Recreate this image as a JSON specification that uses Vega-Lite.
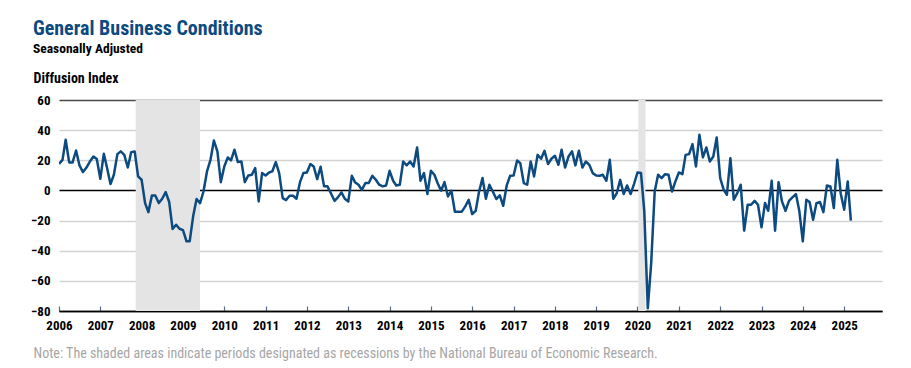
{
  "$schema": "https://vega.github.io/schema/vega-lite/v6.json",
  "width": 823,
  "height": 211,
  "autosize": {"type": "none"},
  "padding": {"left": 59, "top": 100, "right": 29, "bottom": 57},
  "background": "white",
  "config": {
    "font": "'Roboto Condensed', 'Noto Sans Condensed', 'Open Sans Condensed', 'Liberation Sans Narrow', 'DejaVu Sans Condensed', sans-serif",
    "view": {"stroke": null}
  },
  "title": {
    "text": "General Business Conditions",
    "subtitle": "Seasonally Adjusted",
    "anchor": "start",
    "frame": "group",
    "dx": -26,
    "offset": 16,
    "font": "'Roboto Condensed', 'Noto Sans Condensed', 'Open Sans Condensed', 'Liberation Sans Narrow', 'DejaVu Sans Condensed', sans-serif",
    "subtitleFont": "'Roboto Condensed', 'Noto Sans Condensed', 'Open Sans Condensed', 'Liberation Sans Narrow', 'DejaVu Sans Condensed', sans-serif",
    "fontSize": 20,
    "fontWeight": "bold",
    "color": "#0c4a80",
    "subtitleFontSize": 13.5,
    "subtitleFontWeight": "bold",
    "subtitleColor": "#000000",
    "subtitlePadding": 3
  },
  "datasets": {
    "recessions": [
      {"start": "2007-11-10", "end": "2009-05-31"},
      {"start": "2020-01-08", "end": "2020-03-12"}
    ],
    "series": [
      {"date": "2006-01-01", "value": 17.5}, {"date": "2006-02-01", "value": 20.3}, {"date": "2006-03-01", "value": 33.6}, {"date": "2006-04-01", "value": 18.6}, {"date": "2006-05-01", "value": 18.6}, {"date": "2006-06-01", "value": 26.5}, {"date": "2006-07-01", "value": 16.6}, {"date": "2006-08-01", "value": 12.2}, {"date": "2006-09-01", "value": 15.2}, {"date": "2006-10-01", "value": 19.2}, {"date": "2006-11-01", "value": 22.5}, {"date": "2006-12-01", "value": 20.8},
      {"date": "2007-01-01", "value": 7.7}, {"date": "2007-02-01", "value": 24.3}, {"date": "2007-03-01", "value": 15.2}, {"date": "2007-04-01", "value": 4.2}, {"date": "2007-05-01", "value": 10.4}, {"date": "2007-06-01", "value": 24.1}, {"date": "2007-07-01", "value": 25.9}, {"date": "2007-08-01", "value": 23.6}, {"date": "2007-09-01", "value": 15.2}, {"date": "2007-10-01", "value": 25.4}, {"date": "2007-11-01", "value": 25.9}, {"date": "2007-12-01", "value": 9.3},
      {"date": "2008-01-01", "value": 7.1}, {"date": "2008-02-01", "value": -8.4}, {"date": "2008-03-01", "value": -14.4}, {"date": "2008-04-01", "value": -3.3}, {"date": "2008-05-01", "value": -3.3}, {"date": "2008-06-01", "value": -8.4}, {"date": "2008-07-01", "value": -5.5}, {"date": "2008-08-01", "value": -1.1}, {"date": "2008-09-01", "value": -7.7}, {"date": "2008-10-01", "value": -25.6}, {"date": "2008-11-01", "value": -22.8}, {"date": "2008-12-01", "value": -25.4},
      {"date": "2009-01-01", "value": -26.3}, {"date": "2009-02-01", "value": -33.8}, {"date": "2009-03-01", "value": -33.8}, {"date": "2009-04-01", "value": -17.0}, {"date": "2009-05-01", "value": -5.7}, {"date": "2009-06-01", "value": -8.4}, {"date": "2009-07-01", "value": -0.7}, {"date": "2009-08-01", "value": 12.6}, {"date": "2009-09-01", "value": 20.3}, {"date": "2009-10-01", "value": 33.1}, {"date": "2009-11-01", "value": 25.9}, {"date": "2009-12-01", "value": 5.5},
      {"date": "2010-01-01", "value": 15.9}, {"date": "2010-02-01", "value": 21.9}, {"date": "2010-03-01", "value": 19.9}, {"date": "2010-04-01", "value": 27.0}, {"date": "2010-05-01", "value": 18.8}, {"date": "2010-06-01", "value": 19.2}, {"date": "2010-07-01", "value": 5.5}, {"date": "2010-08-01", "value": 9.9}, {"date": "2010-09-01", "value": 10.4}, {"date": "2010-10-01", "value": 14.8}, {"date": "2010-11-01", "value": -7.3}, {"date": "2010-12-01", "value": 11.5},
      {"date": "2011-01-01", "value": 9.9}, {"date": "2011-02-01", "value": 11.9}, {"date": "2011-03-01", "value": 12.6}, {"date": "2011-04-01", "value": 18.8}, {"date": "2011-05-01", "value": 11.5}, {"date": "2011-06-01", "value": -5.1}, {"date": "2011-07-01", "value": -6.4}, {"date": "2011-08-01", "value": -3.5}, {"date": "2011-09-01", "value": -3.5}, {"date": "2011-10-01", "value": -5.5}, {"date": "2011-11-01", "value": 5.5}, {"date": "2011-12-01", "value": 11.5},
      {"date": "2012-01-01", "value": 11.9}, {"date": "2012-02-01", "value": 17.5}, {"date": "2012-03-01", "value": 15.9}, {"date": "2012-04-01", "value": 7.5}, {"date": "2012-05-01", "value": 15.7}, {"date": "2012-06-01", "value": 2.7}, {"date": "2012-07-01", "value": 2.7}, {"date": "2012-08-01", "value": -2.0}, {"date": "2012-09-01", "value": -6.9}, {"date": "2012-10-01", "value": -4.6}, {"date": "2012-11-01", "value": -1.3}, {"date": "2012-12-01", "value": -5.5},
      {"date": "2013-01-01", "value": -7.3}, {"date": "2013-02-01", "value": 9.7}, {"date": "2013-03-01", "value": 5.5}, {"date": "2013-04-01", "value": 3.8}, {"date": "2013-05-01", "value": 0.4}, {"date": "2013-06-01", "value": 4.9}, {"date": "2013-07-01", "value": 4.9}, {"date": "2013-08-01", "value": 9.7}, {"date": "2013-09-01", "value": 7.1}, {"date": "2013-10-01", "value": 3.8}, {"date": "2013-11-01", "value": 2.7}, {"date": "2013-12-01", "value": 3.3},
      {"date": "2014-01-01", "value": 13.0}, {"date": "2014-02-01", "value": 6.4}, {"date": "2014-03-01", "value": 3.3}, {"date": "2014-04-01", "value": 3.8}, {"date": "2014-05-01", "value": 19.2}, {"date": "2014-06-01", "value": 16.6}, {"date": "2014-07-01", "value": 19.2}, {"date": "2014-08-01", "value": 15.9}, {"date": "2014-09-01", "value": 28.5}, {"date": "2014-10-01", "value": 6.4}, {"date": "2014-11-01", "value": 11.5}, {"date": "2014-12-01", "value": -2.4},
      {"date": "2015-01-01", "value": 13.0}, {"date": "2015-02-01", "value": 10.4}, {"date": "2015-03-01", "value": 4.9}, {"date": "2015-04-01", "value": -0.2}, {"date": "2015-05-01", "value": 5.5}, {"date": "2015-06-01", "value": -4.0}, {"date": "2015-07-01", "value": -0.2}, {"date": "2015-08-01", "value": -14.1}, {"date": "2015-09-01", "value": -14.1}, {"date": "2015-10-01", "value": -14.1}, {"date": "2015-11-01", "value": -10.6}, {"date": "2015-12-01", "value": -6.2},
      {"date": "2016-01-01", "value": -15.7}, {"date": "2016-02-01", "value": -13.5}, {"date": "2016-03-01", "value": -1.0}, {"date": "2016-04-01", "value": 8.2}, {"date": "2016-05-01", "value": -5.5}, {"date": "2016-06-01", "value": 3.8}, {"date": "2016-07-01", "value": -0.7}, {"date": "2016-08-01", "value": -5.7}, {"date": "2016-09-01", "value": -3.3}, {"date": "2016-10-01", "value": -10.2}, {"date": "2016-11-01", "value": 3.3}, {"date": "2016-12-01", "value": 9.7},
      {"date": "2017-01-01", "value": 9.9}, {"date": "2017-02-01", "value": 19.9}, {"date": "2017-03-01", "value": 18.1}, {"date": "2017-04-01", "value": 4.9}, {"date": "2017-05-01", "value": 3.8}, {"date": "2017-06-01", "value": 19.2}, {"date": "2017-07-01", "value": 9.3}, {"date": "2017-08-01", "value": 23.6}, {"date": "2017-09-01", "value": 21.0}, {"date": "2017-10-01", "value": 26.3}, {"date": "2017-11-01", "value": 17.5}, {"date": "2017-12-01", "value": 21.0},
      {"date": "2018-01-01", "value": 23.0}, {"date": "2018-02-01", "value": 17.0}, {"date": "2018-03-01", "value": 27.0}, {"date": "2018-04-01", "value": 15.2}, {"date": "2018-05-01", "value": 22.5}, {"date": "2018-06-01", "value": 25.9}, {"date": "2018-07-01", "value": 16.6}, {"date": "2018-08-01", "value": 26.3}, {"date": "2018-09-01", "value": 15.2}, {"date": "2018-10-01", "value": 19.2}, {"date": "2018-11-01", "value": 17.0}, {"date": "2018-12-01", "value": 11.5},
      {"date": "2019-01-01", "value": 9.9}, {"date": "2019-02-01", "value": 9.7}, {"date": "2019-03-01", "value": 10.4}, {"date": "2019-04-01", "value": 6.4}, {"date": "2019-05-01", "value": 20.3}, {"date": "2019-06-01", "value": -5.5}, {"date": "2019-07-01", "value": -2.0}, {"date": "2019-08-01", "value": 7.0}, {"date": "2019-09-01", "value": -2.4}, {"date": "2019-10-01", "value": 3.3}, {"date": "2019-11-01", "value": -2.4}, {"date": "2019-12-01", "value": 4.2},
      {"date": "2020-01-01", "value": 11.9}, {"date": "2020-02-01", "value": 11.5}, {"date": "2020-03-01", "value": -13.9}, {"date": "2020-04-01", "value": -78.2}, {"date": "2020-05-01", "value": -48.2}, {"date": "2020-06-01", "value": -0.7}, {"date": "2020-07-01", "value": 10.4}, {"date": "2020-08-01", "value": 8.2}, {"date": "2020-09-01", "value": 10.8}, {"date": "2020-10-01", "value": 10.4}, {"date": "2020-11-01", "value": -0.7}, {"date": "2020-12-01", "value": 6.0},
      {"date": "2021-01-01", "value": 11.9}, {"date": "2021-02-01", "value": 10.8}, {"date": "2021-03-01", "value": 23.6}, {"date": "2021-04-01", "value": 24.1}, {"date": "2021-05-01", "value": 30.7}, {"date": "2021-06-01", "value": 15.9}, {"date": "2021-07-01", "value": 36.9}, {"date": "2021-08-01", "value": 21.9}, {"date": "2021-09-01", "value": 28.5}, {"date": "2021-10-01", "value": 19.2}, {"date": "2021-11-01", "value": 22.5}, {"date": "2021-12-01", "value": 35.1},
      {"date": "2022-01-01", "value": 8.2}, {"date": "2022-02-01", "value": 0.4}, {"date": "2022-03-01", "value": -2.9}, {"date": "2022-04-01", "value": 21.4}, {"date": "2022-05-01", "value": -6.2}, {"date": "2022-06-01", "value": -1.8}, {"date": "2022-07-01", "value": 3.8}, {"date": "2022-08-01", "value": -26.7}, {"date": "2022-09-01", "value": -9.5}, {"date": "2022-10-01", "value": -9.5}, {"date": "2022-11-01", "value": -6.9}, {"date": "2022-12-01", "value": -9.5},
      {"date": "2023-01-01", "value": -24.5}, {"date": "2023-02-01", "value": -8.4}, {"date": "2023-03-01", "value": -13.5}, {"date": "2023-04-01", "value": 6.4}, {"date": "2023-05-01", "value": -26.7}, {"date": "2023-06-01", "value": 5.5}, {"date": "2023-07-01", "value": -7.3}, {"date": "2023-08-01", "value": -13.5}, {"date": "2023-09-01", "value": -6.9}, {"date": "2023-10-01", "value": -4.6}, {"date": "2023-11-01", "value": -2.4}, {"date": "2023-12-01", "value": -13.5},
      {"date": "2024-01-01", "value": -33.8}, {"date": "2024-02-01", "value": -6.2}, {"date": "2024-03-01", "value": -7.7}, {"date": "2024-04-01", "value": -19.4}, {"date": "2024-05-01", "value": -8.4}, {"date": "2024-06-01", "value": -7.7}, {"date": "2024-07-01", "value": -14.4}, {"date": "2024-08-01", "value": 3.3}, {"date": "2024-09-01", "value": 2.7}, {"date": "2024-10-01", "value": -11.7}, {"date": "2024-11-01", "value": 20.3}, {"date": "2024-12-01", "value": -2.0},
      {"date": "2025-01-01", "value": -12.8}, {"date": "2025-02-01", "value": 6.0}, {"date": "2025-03-01", "value": -20.1}
    ]
  },
  "layer": [
    {
      "data": {"name": "recessions"},
      "mark": {"type": "rect", "color": "#e4e4e4"},
      "encoding": {
        "x": {"field": "start", "type": "temporal"},
        "x2": {"field": "end"}
      }
    },
    {
      "data": {"name": "series"},
      "mark": {"type": "line", "color": "#0c4a80", "strokeWidth": 2.5, "strokeJoin": "round", "clip": true},
      "encoding": {
        "x": {
          "field": "date",
          "type": "temporal",
          "scale": {"type": "utc", "domain": ["2006-01-01", "2025-12-01"]},
          "axis": {
            "title": "Note: The shaded areas indicate periods designated as recessions by the National Bureau of Economic Research.",
            "titleFontSize": 14,
            "titleFontWeight": "normal",
            "titleColor": "#a6a6a6",
            "titleAnchor": "start",
            "titleAlign": "left",
            "titleBaseline": "alphabetic",
            "titleX": -26,
            "titleY": 46,
            "format": "%Y",
            "tickCount": {"interval": "year", "step": 1},
            "grid": false,
            "domain": true,
            "domainColor": "#000000",
            "domainWidth": 1.5,
            "ticks": true,
            "tickSize": -5,
            "tickColor": "#5a6c8c",
            "tickWidth": 1.2,
            "labelPadding": 13,
            "labelFontSize": 13,
            "labelFontWeight": "bold",
            "labelColor": "#000000",
            "labelBaseline": "top",
            "labelFlush": false,
            "labelOverlap": false
          }
        },
        "y": {
          "field": "value",
          "type": "quantitative",
          "scale": {"domain": [-80, 60], "nice": false, "zero": false},
          "axis": {
            "title": "Diffusion Index",
            "titleAngle": 0,
            "titleAlign": "left",
            "titleBaseline": "alphabetic",
            "titleX": -26,
            "titleY": -18,
            "titleFontSize": 14,
            "titleFontWeight": "bold",
            "titleColor": "#000000",
            "values": [-80, -60, -40, -20, 0, 20, 40, 60],
            "grid": true,
            "gridColor": {"condition": [{"test": "datum.value === 0", "value": "#000000"}, {"test": "datum.value === 60", "value": "#4a4a4a"}, {"test": "datum.value === -80", "value": "#000000"}], "value": "#d2d2d2"},
            "gridWidth": {"condition": {"test": "datum.value === 0", "value": 1.6}, "value": 1.5},
            "domain": false,
            "ticks": false,
            "labelPadding": 9,
            "labelFontSize": 13,
            "labelFontWeight": "bold",
            "labelColor": "#000000"
          }
        }
      }
    }
  ]
}
